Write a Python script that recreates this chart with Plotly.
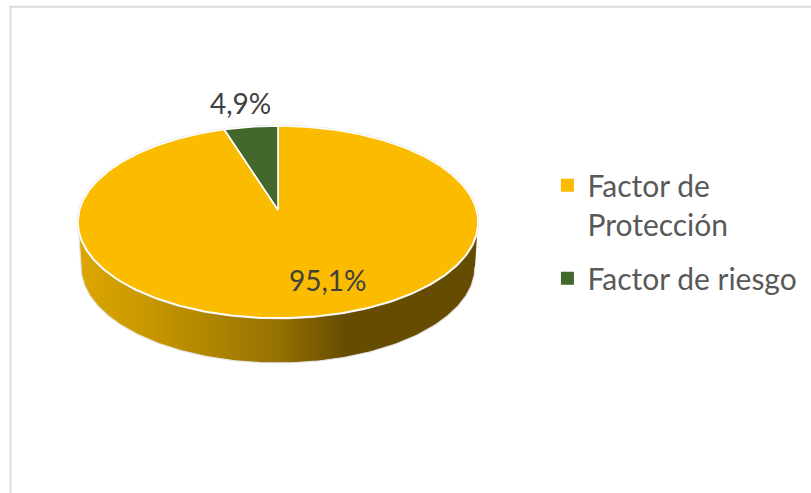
import numpy as np
import plotly.graph_objects as go

categories = ["<br>Factor de<br>Protección", "Factor de riesgo"]
values = [95.1, 4.9]
labels = ["95,1%", "4,9%"]
colors = ["#FBBC00", "#42682B"]

# pie geometry in the picture's pixel frame
CX, CY = 278.0, 210.0
A, B, K = 198.4, 94.5, 0.125
DEPTH, SHRINK = 45.0, 0.985


def project(theta, dy=0.0, sx=1.0):
    u, v = np.sin(theta), -np.cos(theta)
    w = 1 - K * v
    return CX + sx * A * u / w, CY + dy + B * v / w


fig = go.Figure()

# side wall: from the left extreme through the front to the right extreme
t_ext = np.arccos(-K)
t_side = np.linspace(t_ext, 2 * np.pi - t_ext, 160)
xt, yt = project(t_side)
xb, yb = project(t_side[::-1], DEPTH, SHRINK)
fig.add_trace(go.Scatter(
    x=np.r_[xt, xb], y=np.r_[yt, yb], mode="lines", fill="toself",
    line=dict(color="#e4e4e4", width=1.2),
    fillgradient=dict(
        type="horizontal", start=80, stop=480,
        colorscale=[[0, "#DCA600"], [0.165, "#C99800"], [0.5, "#947000"],
                    [0.665, "#664C00"], [1, "#664C00"]]),
    showlegend=False, hoverinfo="skip"))

# faint rim round the top face
t_all = np.linspace(0, 2 * np.pi, 360)
xr, yr = project(t_all)
fig.add_trace(go.Scatter(x=xr, y=yr, mode="lines",
                         line=dict(color="#e0e0e0", width=2.6),
                         showlegend=False, hoverinfo="skip"))

# top face slices, clockwise from twelve o'clock
edges = np.r_[0, np.cumsum(values)] / sum(values) * 2 * np.pi
for i, val in enumerate(values):
    t = np.linspace(edges[i], edges[i + 1], max(int(val * 4), 12))
    xs, ys = project(t)
    fig.add_trace(go.Scatter(
        x=np.r_[CX, xs, CX], y=np.r_[CY, ys, CY], mode="lines", fill="toself",
        fillcolor=colors[i], line=dict(color="#ffffff", width=1.6),
        showlegend=False, hoverinfo="skip"))

# legend entries
for i, (name, col) in enumerate(zip(categories, colors)):
    fig.add_trace(go.Scatter(x=[None], y=[None], mode="markers", name=name,
                             legendgroup=f"g{i}",
                             marker=dict(symbol="square", size=13, color=col)))

fig.add_annotation(x=328, y=279.5, text=labels[0], showarrow=False,
                   font=dict(family="Lato", size=28, color="#404040"))
fig.add_annotation(x=240, y=103, text=labels[1], showarrow=False,
                   font=dict(family="Lato", size=28, color="#404040"))

fig.add_shape(type="rect", xref="x", yref="y", x0=10.5, y0=6.7, x1=840, y1=520,
              line=dict(color="#dcdcdc", width=2), layer="below")

fig.update_layout(
    width=811, height=493, margin=dict(l=0, r=0, t=0, b=0),
    paper_bgcolor="#ffffff", plot_bgcolor="#ffffff",
    xaxis=dict(range=[0, 811], visible=False, fixedrange=True),
    yaxis=dict(range=[493, 0], visible=False, fixedrange=True),
    legend=dict(x=0.675, y=0.756, xanchor="left", yanchor="top",
                bgcolor="rgba(0,0,0,0)", tracegroupgap=12,
                font=dict(family="Lato", size=30, color="#595959")),
)
fig.write_html("out.html", config=dict(displayModeBar=False),
               post_script="document.body.style.margin='0';document.body.style.overflow='hidden';")
